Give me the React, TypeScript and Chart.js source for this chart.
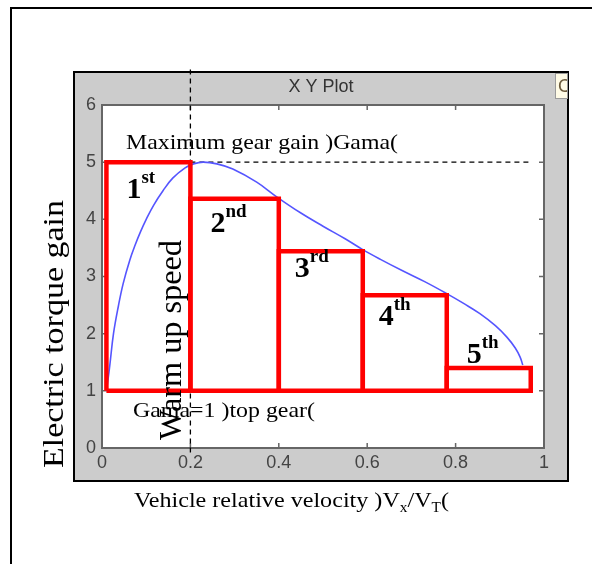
import React, { useEffect, useRef } from 'react';
import { Chart, registerables } from 'chart.js';

Chart.register(...registerables);

// ---- data ----
const curveX = [0.01, 0.014, 0.018, 0.026, 0.037, 0.048, 0.063, 0.075, 0.087, 0.1, 0.117, 0.138, 0.16, 0.188, 0.207, 0.229, 0.26, 0.296, 0.35, 0.396, 0.45, 0.5, 0.55, 0.59, 0.63, 0.68, 0.73, 0.78, 0.82, 0.855, 0.89, 0.916, 0.935, 0.946, 0.952];
const curveY = [1.0, 1.22, 1.47, 2.0, 2.48, 2.88, 3.29, 3.55, 3.78, 4.0, 4.25, 4.5, 4.72, 4.9, 4.97, 5.0, 4.97, 4.88, 4.65, 4.39, 4.11, 3.88, 3.66, 3.47, 3.3, 3.1, 2.91, 2.7, 2.52, 2.35, 2.14, 1.94, 1.75, 1.59, 1.45];

const gearNumbers = ['1', '2', '3', '4', '5'];
const gearSuffixes = ['st', 'nd', 'rd', 'th', 'th'];
const gearStart = [0.01, 0.2, 0.4, 0.59, 0.78];
const gearEnd = [0.2, 0.4, 0.59, 0.78, 0.97];
const gearTop = [5.0, 4.36, 3.44, 2.67, 1.4];
const topGearGain = 1;
const maxGearGain = 5;
const maxGainLineEnd = 0.97;
const warmUpSpeed = 0.2;
const warmUpLineRange = [-0.08, 6.65];

const xTicks = [0, 0.2, 0.4, 0.6, 0.8, 1];
const xTickLabels = ['0', '0.2', '0.4', '0.6', '0.8', '1'];
const yTicks = [0, 1, 2, 3, 4, 5, 6];
const yTickLabels = ['0', '1', '2', '3', '4', '5', '6'];

// ---- layout / style (not data) ----
const W = 592;
const H = 564;
const SERIF = '"Liberation Serif", "Times New Roman", serif';
const SANS = '"Liberation Sans", Arial, sans-serif';
// pixel offsets of gear labels from (rect left, rect top)
const gearLabelOffset = [
  [20, 36],
  [20, 33],
  [16, 26],
  [16, 30],
  [20, -5],
];

type Run = { text: string; font: string; dy?: number };

function drawRuns(
  ctx: CanvasRenderingContext2D,
  runs: Run[],
  x: number,
  y: number,
  opts: { width?: number; rotate?: boolean; color?: string } = {}
) {
  ctx.save();
  let natural = 0;
  for (const r of runs) {
    ctx.font = r.font;
    natural += ctx.measureText(r.text).width;
  }
  const sx = opts.width ? opts.width / natural : 1;
  ctx.translate(x, y);
  if (opts.rotate) ctx.rotate(-Math.PI / 2);
  ctx.scale(sx, 1);
  ctx.fillStyle = opts.color || '#000';
  ctx.textBaseline = 'alphabetic';
  ctx.textAlign = 'left';
  let cx = 0;
  for (const r of runs) {
    ctx.font = r.font;
    ctx.fillText(r.text, cx, r.dy || 0);
    cx += ctx.measureText(r.text).width;
  }
  ctx.restore();
}

const decorPlugin = {
  id: 'decor',
  beforeDraw(chart: any) {
    const { ctx, chartArea: ca } = chart;
    ctx.save();
    ctx.fillStyle = '#ffffff';
    ctx.fillRect(0, 0, chart.width, chart.height);

    // outer frame
    ctx.strokeStyle = '#000';
    ctx.lineWidth = 2;
    ctx.beginPath();
    ctx.moveTo(11, chart.height);
    ctx.lineTo(11, 8);
    ctx.lineTo(chart.width, 8);
    ctx.stroke();

    // gray figure panel
    const pl = ca.left - 28, pt = ca.top - 33, pr = ca.right + 24, pb = ca.bottom + 33;
    ctx.fillStyle = '#cccccc';
    ctx.fillRect(pl, pt, pr - pl, pb - pt);
    ctx.strokeStyle = '#000';
    ctx.lineWidth = 2;
    ctx.strokeRect(pl, pt, pr - pl, pb - pt);

    // title
    ctx.fillStyle = '#333333';
    ctx.font = `18px ${SANS}`;
    ctx.textAlign = 'center';
    ctx.textBaseline = 'alphabetic';
    ctx.fillText('X Y Plot', (ca.left + ca.right) / 2 - 2, pt + 20);

    // small button at top-right
    const bx = pr - 13, by = pt + 1, bw = 12, bh = 25;
    ctx.fillStyle = '#fffbe6';
    ctx.fillRect(bx, by, bw, bh);
    ctx.strokeStyle = '#9a9a9a';
    ctx.lineWidth = 1;
    ctx.strokeRect(bx + 0.5, by + 0.5, bw, bh);
    ctx.save();
    ctx.beginPath();
    ctx.rect(bx + 1, by + 1, bw - 1, bh - 1);
    ctx.clip();
    ctx.fillStyle = '#6b5a3c';
    ctx.font = `18px ${SANS}`;
    ctx.textAlign = 'left';
    ctx.fillText('C', bx + 3, by + 19);
    ctx.restore();

    // plot area
    ctx.fillStyle = '#ffffff';
    ctx.fillRect(ca.left, ca.top, ca.right - ca.left, ca.bottom - ca.top);
    ctx.restore();
  },
  beforeDatasetsDraw(chart: any) {
    const { ctx, chartArea: ca, scales } = chart;
    ctx.save();
    ctx.strokeStyle = '#666666';
    ctx.lineWidth = 2;
    ctx.strokeRect(ca.left, ca.top, ca.right - ca.left, ca.bottom - ca.top);
    ctx.lineWidth = 1.5;
    ctx.beginPath();
    for (const v of xTicks) {
      const px = scales.x.getPixelForValue(v);
      ctx.moveTo(px, ca.bottom);
      ctx.lineTo(px, ca.bottom - 5);
      ctx.moveTo(px, ca.top);
      ctx.lineTo(px, ca.top + 5);
    }
    for (const v of yTicks) {
      const py = scales.y.getPixelForValue(v);
      ctx.moveTo(ca.left, py);
      ctx.lineTo(ca.left + 5, py);
      ctx.moveTo(ca.right, py);
      ctx.lineTo(ca.right - 5, py);
    }
    ctx.stroke();
    ctx.restore();
  },
  afterDraw(chart: any) {
    const { ctx, chartArea: ca, scales } = chart;
    // annotation texts
    drawRuns(ctx, [{ text: 'Maximum gear gain )Gama(', font: `22px ${SERIF}` }], ca.left + 24, ca.top + 44, { width: 272 });
    drawRuns(ctx, [{ text: 'Gama=1 )top gear(', font: `22px ${SERIF}` }], ca.left + 31, ca.top + 312, { width: 182 });

    // gear labels
    for (let i = 0; i < gearNumbers.length; i++) {
      const lx = scales.x.getPixelForValue(gearStart[i]) + gearLabelOffset[i][0];
      const ly = scales.y.getPixelForValue(gearTop[i]) + gearLabelOffset[i][1];
      drawRuns(ctx, [
        { text: gearNumbers[i], font: `bold 30px ${SERIF}` },
        { text: gearSuffixes[i], font: `bold 19px ${SERIF}`, dy: -15 },
      ], lx, ly);
    }

    // warm up speed (vertical)
    drawRuns(ctx, [{ text: 'Warm up speed', font: `32px ${SERIF}` }], ca.left + 79, ca.bottom - 8, { width: 200, rotate: true });

    // axis titles
    drawRuns(ctx, [{ text: 'Electric torque gain', font: `30px ${SERIF}` }], 63, 468, { width: 268, rotate: true });
    drawRuns(ctx, [
      { text: 'Vehicle relative velocity )V', font: `22px ${SERIF}` },
      { text: 'x', font: `14px ${SERIF}`, dy: 5 },
      { text: '/V', font: `22px ${SERIF}` },
      { text: 'T', font: `14px ${SERIF}`, dy: 5 },
      { text: '(', font: `22px ${SERIF}` },
    ], 134, 507, { width: 315 });
  },
};

function rectPoints(i: number) {
  return [
    { x: gearStart[i], y: topGearGain },
    { x: gearStart[i], y: gearTop[i] },
    { x: gearEnd[i], y: gearTop[i] },
    { x: gearEnd[i], y: topGearGain },
    { x: gearStart[i], y: topGearGain },
  ];
}

export default function App() {
  const canvasRef = useRef<HTMLCanvasElement | null>(null);

  useEffect(() => {
    const canvas = canvasRef.current;
    if (!canvas) return;
    const rectSets = gearNumbers.map((_, i) => ({
      label: `gear ${i + 1}`,
      data: rectPoints(i),
      showLine: true,
      borderColor: '#ff0000',
      borderWidth: 4.5,
      borderJoinStyle: 'miter' as const,
      pointRadius: 0,
      tension: 0,
      fill: false,
    }));
    const chart = new Chart(canvas, {
      type: 'scatter',
      data: {
        datasets: [
          ...rectSets,
          {
            label: 'torque gain',
            data: curveX.map((x, i) => ({ x, y: curveY[i] })),
            showLine: true,
            borderColor: 'rgb(85,85,255)',
            borderWidth: 1.6,
            pointRadius: 0,
            tension: 0.4,
            fill: false,
          },
          {
            label: 'max gain',
            data: [
              { x: warmUpSpeed, y: maxGearGain },
              { x: maxGainLineEnd, y: maxGearGain },
            ],
            showLine: true,
            borderColor: '#000',
            borderWidth: 1.3,
            borderDash: [5, 4],
            pointRadius: 0,
          },
          {
            label: 'warm up',
            data: [
              { x: warmUpSpeed, y: warmUpLineRange[0] },
              { x: warmUpSpeed, y: warmUpLineRange[1] },
            ],
            showLine: true,
            borderColor: '#000',
            borderWidth: 1.3,
            borderDash: [5, 4],
            pointRadius: 0,
            clip: false as any,
          },
        ] as any,
      },
      options: {
        animation: false,
        responsive: false,
        devicePixelRatio: 1,
        events: [],
        layout: { padding: { left: 0, top: 105, right: 48, bottom: 86 } },
        plugins: { legend: { display: false }, tooltip: { enabled: false }, title: { display: false } },
        scales: {
          x: {
            type: 'linear',
            min: 0,
            max: 1,
            afterBuildTicks: (axis: any) => {
              axis.ticks = xTicks.map((v) => ({ value: v }));
            },
            afterFit: (axis: any) => {
              axis.height = 30;
            },
            grid: { display: false, drawTicks: false },
            border: { display: false },
            ticks: {
              color: '#444444',
              font: { family: SANS, size: 18 },
              padding: 4,
              maxRotation: 0,
              callback: (_v: any, i: number) => xTickLabels[i],
            },
          },
          y: {
            type: 'linear',
            min: 0,
            max: 6,
            afterBuildTicks: (axis: any) => {
              axis.ticks = yTicks.map((v) => ({ value: v }));
            },
            afterFit: (axis: any) => {
              axis.width = 102;
            },
            grid: { display: false, drawTicks: false },
            border: { display: false },
            ticks: {
              color: '#444444',
              font: { family: SANS, size: 18 },
              padding: 6,
              callback: (_v: any, i: number) => yTickLabels[i],
            },
          },
        },
      },
      plugins: [decorPlugin],
    });
    return () => chart.destroy();
  }, []);

  return (
    <div style={{ position: 'absolute', left: 0, top: 0, width: W, height: H }}>
      <canvas ref={canvasRef} width={W} height={H} style={{ display: 'block', width: W, height: H }} />
    </div>
  );
}
